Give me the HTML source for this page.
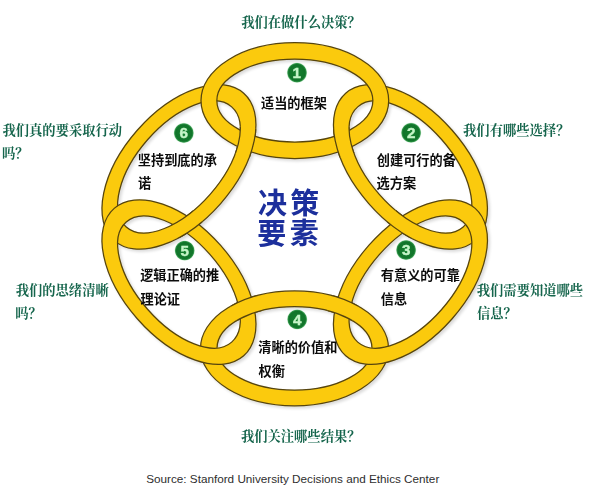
<!DOCTYPE html>
<html><head><meta charset="utf-8"><title>Decision elements</title>
<style>
html,body{margin:0;padding:0;background:#fff;}
body{width:600px;height:494px;position:relative;overflow:hidden;font-family:"Liberation Sans",sans-serif;}
.src{position:absolute;left:146.2px;top:472.7px;font-size:11.72px;color:#2e2e2e;white-space:nowrap;letter-spacing:0px;line-height:1;}
</style></head><body>
<svg width="600" height="494" viewBox="0 0 600 494" style="position:absolute;left:0;top:0"><defs><filter id="sh" x="-10%" y="-10%" width="125%" height="125%"><feGaussianBlur in="SourceAlpha" stdDeviation="1.8"/><feOffset dx="2" dy="2"/><feComponentTransfer><feFuncA type="linear" slope="0.15"/></feComponentTransfer><feMerge><feMergeNode/><feMergeNode in="SourceGraphic"/></feMerge></filter><radialGradient id="gb" cx="50%" cy="50%" r="50%"><stop offset="0" stop-color="#16802f"/><stop offset="0.8" stop-color="#11742a"/><stop offset="0.9" stop-color="#2f9448"/><stop offset="1" stop-color="#8fd29a" stop-opacity="0.35"/></radialGradient><g id="r1"><path transform="translate(294.85,100.60) rotate(0.00)" d="M-93.85,0A93.85,57.90 0 1 0 93.85,0A93.85,57.90 0 1 0 -93.85,0ZM-78.00,0A78.00,41.40 0 1 0 78.00,0A78.00,41.40 0 1 0 -78.00,0Z" fill="#fbca10" fill-rule="evenodd" stroke="#56440a" stroke-width="1.25"/></g><g id="r2"><path transform="translate(410.45,166.91) rotate(48.70)" d="M-98.10,0A98.10,55.50 0 1 0 98.10,0A98.10,55.50 0 1 0 -98.10,0ZM-79.90,0A79.90,41.50 0 1 0 79.90,0A79.90,41.50 0 1 0 -79.90,0Z" fill="#fbca10" fill-rule="evenodd" stroke="#56440a" stroke-width="1.25"/></g><g id="r3"><path transform="translate(410.45,282.09) rotate(-48.70)" d="M-98.10,0A98.10,55.50 0 1 0 98.10,0A98.10,55.50 0 1 0 -98.10,0ZM-79.90,0A79.90,41.50 0 1 0 79.90,0A79.90,41.50 0 1 0 -79.90,0Z" fill="#fbca10" fill-rule="evenodd" stroke="#56440a" stroke-width="1.25"/></g><g id="r4"><path transform="translate(294.50,348.40) rotate(0.00)" d="M-94.00,0A94.00,57.40 0 1 0 94.00,0A94.00,57.40 0 1 0 -94.00,0ZM-77.50,0A77.50,41.70 0 1 0 77.50,0A77.50,41.70 0 1 0 -77.50,0Z" fill="#fbca10" fill-rule="evenodd" stroke="#56440a" stroke-width="1.25"/></g><g id="r5"><path transform="translate(178.95,282.09) rotate(48.70)" d="M-98.10,0A98.10,55.50 0 1 0 98.10,0A98.10,55.50 0 1 0 -98.10,0ZM-79.90,0A79.90,41.50 0 1 0 79.90,0A79.90,41.50 0 1 0 -79.90,0Z" fill="#fbca10" fill-rule="evenodd" stroke="#56440a" stroke-width="1.25"/></g><g id="r6"><path transform="translate(178.95,166.91) rotate(-48.70)" d="M-98.10,0A98.10,55.50 0 1 0 98.10,0A98.10,55.50 0 1 0 -98.10,0ZM-79.90,0A79.90,41.50 0 1 0 79.90,0A79.90,41.50 0 1 0 -79.90,0Z" fill="#fbca10" fill-rule="evenodd" stroke="#56440a" stroke-width="1.25"/></g><clipPath id="c0"><circle cx="343.03" cy="141.71" r="16.00"/></clipPath><clipPath id="c1"><circle cx="402.72" cy="224.50" r="16.00"/></clipPath><clipPath id="c2"><circle cx="342.98" cy="307.53" r="16.00"/></clipPath><clipPath id="c3"><circle cx="246.39" cy="307.38" r="16.00"/></clipPath><clipPath id="c4"><circle cx="186.68" cy="224.50" r="16.00"/></clipPath><clipPath id="c5"><circle cx="246.40" cy="141.60" r="16.00"/></clipPath></defs><g filter="url(#sh)"><use href="#r2"/><use href="#r4"/><use href="#r6"/><use href="#r1"/><use href="#r3"/><use href="#r5"/><g clip-path="url(#c0)"><use href="#r2"/></g><g clip-path="url(#c1)"><use href="#r2"/></g><g clip-path="url(#c2)"><use href="#r4"/></g><g clip-path="url(#c3)"><use href="#r4"/></g><g clip-path="url(#c4)"><use href="#r6"/></g><g clip-path="url(#c5)"><use href="#r6"/></g></g>
<g font-family="'Liberation Sans', sans-serif" font-weight="bold" font-size="15.2" fill="#c6f5c8" stroke="#c6f5c8" stroke-width="0.4">
<circle cx="297" cy="72.7" r="10.2" fill="url(#gb)" stroke="none"/><text x="292.51" y="77.93">1</text>
<circle cx="411.1" cy="132.8" r="10.2" fill="url(#gb)" stroke="none"/><text x="406.91" y="138.11">2</text>
<circle cx="406.1" cy="250" r="10.2" fill="url(#gb)" stroke="none"/><text x="401.97" y="255.22">3</text>
<circle cx="297.2" cy="319.4" r="10.2" fill="url(#gb)" stroke="none"/><text x="292.90" y="324.63">4</text>
<circle cx="184.7" cy="250.6" r="10.2" fill="url(#gb)" stroke="none"/><text x="180.45" y="255.75">5</text>
<circle cx="183.8" cy="133" r="10.2" fill="url(#gb)" stroke="none"/><text x="179.57" y="138.23">6</text>
</g>
<g font-family="'Liberation Serif', 'Noto Serif CJK SC', serif" font-weight="bold" font-size="13.3" fill="#15654c">
<text x="241.19" y="27">我们在做什么决策？</text>
<text x="463.09" y="135">我们有哪些选择？</text>
<text x="476.79" y="295">我们需要知道哪些</text>
<text x="476.92" y="317.7">信息？</text>
<text x="240.89" y="441">我们关注哪些结果？</text>
<text x="15.69" y="295">我们的思绪清晰</text>
<text x="15.2" y="317.7">吗？</text>
<text x="2.49" y="135">我们真的要采取行动</text>
<text x="2" y="157.6">吗？</text>
</g>
<g font-family="'Liberation Sans', 'Noto Sans CJK SC', sans-serif" font-weight="bold" font-size="13.2" fill="#0c0c0c">
<text x="261" y="107.7">适当的框架</text>
<text x="376.78" y="164.8">创建可行的备</text>
<text x="376.58" y="188.4">选方案</text>
<text x="380.77" y="280">有意义的可靠</text>
<text x="380.78" y="303.5">信息</text>
<text x="258.27" y="352.4">清晰的价值和</text>
<text x="258.47" y="375.9">权衡</text>
<text x="140.14" y="280">逻辑正确的推</text>
<text x="140.48" y="303.5">理论证</text>
<text x="137.82" y="165">坚持到底的承</text>
<text x="138.12" y="188.4">诺</text>
</g>
<g font-family="'Liberation Sans', 'Noto Sans CJK SC', sans-serif" font-weight="bold" font-size="29" fill="#1c2f9c" letter-spacing="3.4">
<text x="257.9" y="214.2">决策</text>
<text x="257.32" y="243.9">要素</text>
</g>
</svg>
<div class="src">Source: Stanford University Decisions and Ethics Center</div>
</body></html>
